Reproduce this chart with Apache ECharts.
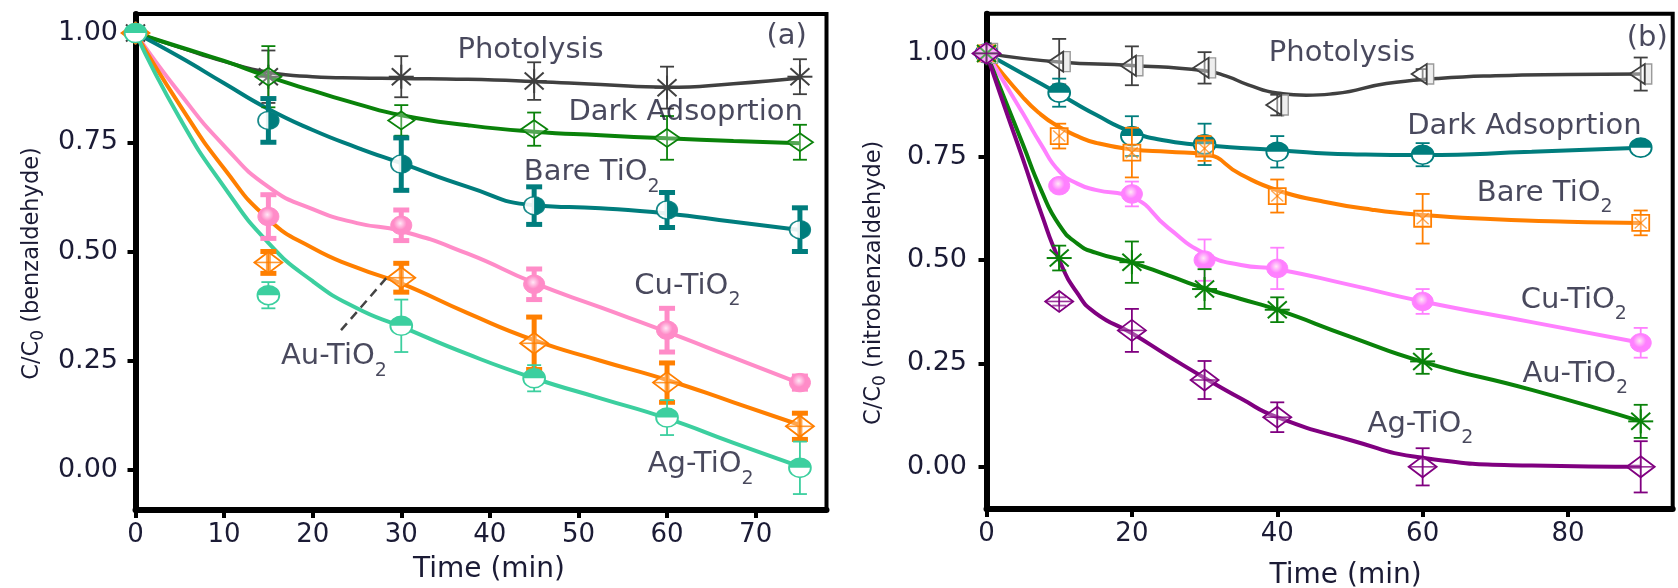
<!DOCTYPE html>
<html><head><meta charset="utf-8">
<script src="https://cdn.jsdelivr.net/npm/echarts@6/dist/echarts.min.js"></script>
<style>html,body{margin:0;padding:0;background:#fff}#c{width:1678px;height:588px}</style>
</head><body><div id="c"></div>
<script>
// ---------- Panel (a): benzaldehyde ----------
const timeA = [0, 15, 30, 45, 60, 75];
const photoA = [1.00, 0.90, 0.90, 0.89, 0.875, 0.90];
const photoErrA = [0, 0.06, 0.047, 0.043, 0.048, 0.04];
const darkA = [1.00, 0.90, 0.80, 0.78, 0.76, 0.75];
const darkErrA = [0, 0.07, 0.035, 0.038, 0.05, 0.04];
const bareA = [1.00, 0.80, 0.70, 0.605, 0.595, 0.55];
const bareErrA = [0, 0.05, 0.06, 0.043, 0.04, 0.05];
const cuA = [1.00, 0.58, 0.56, 0.425, 0.32, 0.20];
const cuErrA = [0, 0.05, 0.035, 0.035, 0.05, 0.015];
const auA = [1.00, 0.475, 0.44, 0.29, 0.20, 0.10];
const auErrA = [0, 0.025, 0.033, 0.06, 0.045, 0.03];
const agA = [1.00, 0.40, 0.33, 0.21, 0.12, 0.005];
const agErrA = [0, 0.03, 0.06, 0.03, 0.04, 0.06];
// fitted curves
const fitTimeA = [0, 5, 10, 15, 20, 25, 30, 37.5, 45, 52.5, 60, 67.5, 75];
const photoFitA = [1.0, 0.967, 0.935, 0.91, 0.90, 0.897, 0.896, 0.894, 0.889, 0.882, 0.876, 0.884, 0.897];
const darkFitA = [1.0, 0.968, 0.936, 0.90, 0.868, 0.838, 0.812, 0.789, 0.774, 0.766, 0.759, 0.753, 0.748];
const bareFitA = [1.0, 0.945, 0.885, 0.826, 0.778, 0.738, 0.702, 0.648, 0.606, 0.599, 0.587, 0.568, 0.549];
const cuFitA = [1.0, 0.862, 0.742, 0.648, 0.597, 0.565, 0.547, 0.495, 0.428, 0.372, 0.316, 0.257, 0.198];
const auFitA = [1.0, 0.835, 0.69, 0.574, 0.508, 0.463, 0.427, 0.359, 0.297, 0.25, 0.206, 0.155, 0.103];
const agFitA = [1.0, 0.805, 0.648, 0.52, 0.432, 0.37, 0.328, 0.265, 0.21, 0.164, 0.118, 0.062, 0.008];
const pointerA = [[23.2, 0.32], [28.3, 0.439]];
const annoTextA = ['Photolysis', 'Dark Adsoprtion', 'Bare TiO2', 'Cu-TiO2', 'Au-TiO2', 'Ag-TiO2', '(a)'];
const annoXA = [44.6, 62.1, 51.5, 62.3, 22.4, 63.8, 73.5];
const annoYA = [0.961, 0.819, 0.670, 0.410, 0.249, 0.002, 0.993];
const xTicksA = [0, 10, 20, 30, 40, 50, 60, 70];

// ---------- Panel (b): nitrobenzaldehyde ----------
const timeB = [0, 10, 20, 30, 40, 60, 90];
const photoB = [1.00, 0.98, 0.97, 0.965, 0.875, 0.95, 0.95];
const photoErrB = [0, 0.055, 0.047, 0.038, 0.025, 0.012, 0.04];
const darkB = [1.00, 0.905, 0.80, 0.78, 0.762, 0.755, 0.772];
const darkErrB = [0, 0.034, 0.048, 0.05, 0.038, 0.028, 0.012];
const bareB = [1.00, 0.80, 0.76, 0.77, 0.655, 0.60, 0.59];
const bareErrB = [0, 0.03, 0.06, 0.03, 0.04, 0.06, 0.03];
const cuB = [1.00, 0.68, 0.66, 0.50, 0.48, 0.40, 0.30];
const cuErrB = [0, 0.012, 0.03, 0.05, 0.05, 0.03, 0.036];
const auB = [1.00, 0.505, 0.495, 0.43, 0.38, 0.255, 0.11];
const auErrB = [0, 0.03, 0.05, 0.048, 0.03, 0.03, 0.04];
const agB = [1.00, 0.40, 0.33, 0.21, 0.12, 0.0, 0.0];
const agErrB = [0, 0.01, 0.052, 0.046, 0.036, 0.045, 0.062];
// fitted curves (each with its own times)
const photoFitTB = [0, 10, 20, 30, 33, 36, 40, 44, 48, 55, 62, 70, 80, 90];
const photoFitB = [1.0, 0.979, 0.971, 0.958, 0.945, 0.924, 0.904, 0.899, 0.903, 0.927, 0.939, 0.946, 0.949, 0.95];
const darkFitTB = [0, 5, 10, 15, 20, 25, 30, 40, 50, 60, 75, 90];
const darkFitB = [1.0, 0.951, 0.902, 0.852, 0.81, 0.788, 0.778, 0.766, 0.756, 0.754, 0.762, 0.772];
const bareFitTB = [0, 5, 7.5, 10, 12.5, 15, 20, 25, 30, 35, 40, 46, 53, 60, 70, 80, 90];
const bareFitB = [1.0, 0.894, 0.852, 0.822, 0.80, 0.784, 0.768, 0.762, 0.756, 0.707, 0.669, 0.643, 0.622, 0.609, 0.599, 0.593, 0.59];
const cuFitTB = [0, 2.5, 5, 7.5, 10, 12.5, 15, 20, 25, 30, 35, 40, 50, 60, 75, 90];
const cuFitB = [1.0, 0.928, 0.855, 0.78, 0.715, 0.685, 0.67, 0.652, 0.578, 0.516, 0.488, 0.478, 0.44, 0.40, 0.35, 0.30];
const auFitTB = [0, 2.5, 5, 7.5, 10, 12.5, 15, 20, 25, 30, 35, 40, 50, 60, 75, 90];
const auFitB = [1.0, 0.89, 0.78, 0.67, 0.585, 0.54, 0.518, 0.494, 0.463, 0.432, 0.406, 0.38, 0.315, 0.254, 0.186, 0.11];
const agFitTB = [0, 2.5, 5, 7.5, 10, 12.5, 15, 20, 25, 30, 35, 40, 50, 60, 75, 90];
const agFitB = [1.0, 0.87, 0.745, 0.615, 0.50, 0.42, 0.372, 0.323, 0.268, 0.215, 0.165, 0.12, 0.065, 0.022, 0.003, 0.0];
const annoTextB = ['Photolysis', 'Dark Adsoprtion', 'Bare TiO2', 'Cu-TiO2', 'Au-TiO2', 'Ag-TiO2', '(b)'];
const annoXB = [48.9, 74.0, 76.8, 80.8, 81.0, 59.7, 90.9];
const annoYB = [1.001, 0.824, 0.651, 0.3925, 0.2126, 0.0918, 1.036];
const xTicksB = [0, 20, 40, 60, 80];
const yTicks = [0, 0.25, 0.5, 0.75, 1.0];

// ---------- styling ----------
const FONT = 'DejaVu Sans';
const TXT = '#1b1b35';
const C = {gray:'#404040', green:'#0a820a', teal:'#007d7d', pinkA:'#ff8cc8', orange:'#ff7f00',
           mint:'#3ccf9f', pinkB:'#ff80ff', purple:'#800080'};

function zip(t, v) { return t.map((x, i) => [x, v[i]]); }
function zip3(t, v, e) { return t.map((x, i) => [x, v[i], e[i]]); }

function ln(x1, y1, x2, y2, c, w, op) {
  return {type:'line', shape:{x1, y1, x2, y2}, style:{stroke:c, lineWidth:w, opacity:op == null ? 1 : op}};
}
function markerEls(kind, c) {
  const lw = 1.8;
  switch (kind) {
    case 'asterisk':
      return [ln(0,-12,0,12,c,2), ln(-12.5,0,12.5,0,c,2), ln(-9.5,-8.5,9.5,8.5,c,2), ln(-9.5,8.5,9.5,-8.5,c,2)];
    case 'diamond':
      return [{type:'polygon', shape:{points:[[0,-9],[13,0],[0,9],[-13,0]]}, style:{fill:'rgba(255,255,255,0.3)', stroke:c, lineWidth:lw}}];
    case 'diamondPlus':
      return [{type:'polygon', shape:{points:[[0,-10.5],[14,0],[0,10.5],[-14,0]]}, style:{fill:'rgba(255,255,255,0.3)', stroke:c, lineWidth:lw}},
              ln(-14,0,14,0,c,1.6,0.8), ln(0,-10.5,0,10.5,c,1.6,0.8)];
    case 'halfRight':
      return [{type:'group', scaleX:1.15, children:[
        {type:'circle', shape:{cx:0, cy:0, r:9}, style:{fill:'#fff', stroke:c, lineWidth:1.5, opacity:0.9}},
        {type:'sector', shape:{cx:0, cy:0, r0:0, r:9, startAngle:-Math.PI/2, endAngle:Math.PI/2, clockwise:true}, style:{fill:c}}]}];
    case 'halfTop':
      return [{type:'group', scaleX:1.15, children:[
        {type:'circle', shape:{cx:0, cy:0, r:9.5}, style:{fill:'#fff', stroke:c, lineWidth:1.6}},
        {type:'sector', shape:{cx:0, cy:0, r0:0, r:9.5, startAngle:Math.PI, endAngle:2*Math.PI, clockwise:true}, style:{fill:c}}]}];
    case 'filled':
      return [{type:'ellipse', shape:{cx:0, cy:0, rx:10.5, ry:9.2},
        style:{fill:new echarts.graphic.RadialGradient(0.45, 0.4, 0.6, [{offset:0, color:'#ffe8f6'}, {offset:0.55, color:c}, {offset:1, color:c}]), stroke:c, lineWidth:1}}];
    case 'squareX':
      return [{type:'rect', shape:{x:-8.5, y:-8, width:17, height:16}, style:{fill:'rgba(255,255,255,0.3)', stroke:c, lineWidth:lw}},
              ln(-6,-5.5,6,5.5,c,1.4,0.7), ln(-6,5.5,6,-5.5,c,1.4,0.7)];
    case 'triLeft':
      return [{type:'rect', shape:{x:4, y:-10, width:7, height:20}, style:{fill:'#eeeeee', stroke:'#9a9a9a', lineWidth:1.4}},
              {type:'polygon', shape:{points:[[-11,0],[4,-10],[4,10]]}, style:{fill:'rgba(255,255,255,0.4)', stroke:c, lineWidth:lw}}];
  }
  return [];
}

function pointSeries(gi, t, v, e, color, kind, thick) {
  const ew = thick ? 5 : 1.8, cw = thick ? 16 : 14;
  return {
    type:'custom', xAxisIndex:gi, yAxisIndex:gi, z:5, clip:false, silent:true,
    data: zip3(t, v, e),
    renderItem: (params, api) => {
      const x = api.value(0), y = api.value(1), er = api.value(2);
      const p = api.coord([x, y]);
      const ch = [];
      if (er > 0) {
        const pt = api.coord([x, y + er]), pb = api.coord([x, y - er]);
        ch.push(ln(p[0], pt[1], p[0], pb[1], color, ew));
        ch.push(ln(p[0]-cw/2, pt[1], p[0]+cw/2, pt[1], color, ew));
        ch.push(ln(p[0]-cw/2, pb[1], p[0]+cw/2, pb[1], color, ew));
      }
      ch.push({type:'group', x:p[0], y:p[1], children:markerEls(kind, color)});
      return {type:'group', children:ch};
    }
  };
}
function curveSeries(gi, t, v, color, w) {
  return {type:'line', xAxisIndex:gi, yAxisIndex:gi, data:zip(t, v), smooth:0.55, showSymbol:false,
          symbol:'none', silent:true, z:3, lineStyle:{color, width:w || 4}};
}
function richLabel(s) {
  if (/O2$/.test(s)) return '{m|' + s.slice(0, -1) + '}{s|2}';
  return '{p|' + s + '}';
}
const richStyles = {
  p:{fontSize:29, fontFamily:FONT, color:TXT},
  m:{fontSize:29, fontFamily:FONT, color:TXT, padding:[0,0,9,0], verticalAlign:'bottom'},
  s:{fontSize:19, fontFamily:FONT, color:TXT, verticalAlign:'bottom'}
};
function annoSeries(gi, txt, xs, ys) {
  return {type:'scatter', xAxisIndex:gi, yAxisIndex:gi, symbolSize:1, z:10, silent:true,
    itemStyle:{color:'rgba(0,0,0,0)'},
    data: txt.map((s, i) => ({value:[xs[i], ys[i]], label:{formatter:richLabel(s)}})),
    label:{show:true, position:'inside', rich:richStyles}};
}
function xAxisCfg(gi, max, ticks, gap, padL) {
  return {type:'value', gridIndex:gi, min:0, max,
    axisLine:{show:true, onZero:false, lineStyle:{color:'#000', width:6}},
    axisTick:{show:true, inside:false, length:8, customValues:ticks, lineStyle:{color:'#000', width:4}},
    axisLabel:{customValues:ticks, color:TXT, fontFamily:FONT, fontSize:26, margin:12},
    splitLine:{show:false},
    name:'Time (min)', nameLocation:'middle', nameGap:gap,
    nameTextStyle:{color:TXT, fontFamily:FONT, fontSize:28, padding:[0,0,0,padL]}};
}
function yAxisCfg(gi, min, max, label, gap, padR, margin) {
  return {type:'value', gridIndex:gi, min, max,
    axisLine:{show:true, onZero:false, lineStyle:{color:'#000', width:6}},
    axisTick:{show:true, inside:false, length:8, customValues:yTicks, lineStyle:{color:'#000', width:4}},
    axisLabel:{customValues:yTicks, color:TXT, fontFamily:FONT, fontSize:27, margin, formatter:v => v.toFixed(2)},
    splitLine:{show:false},
    name:'{m|C/C}{s|0}{m| (' + label + ')}', nameLocation:'middle', nameGap:gap, nameRotate:90,
    nameTextStyle:{padding:[0,padR,0,0], rich:{
      m:{fontSize:22.5, fontFamily:FONT, color:TXT, padding:[0,0,4,0], verticalAlign:'bottom'},
      s:{fontSize:17, fontFamily:FONT, color:TXT, verticalAlign:'bottom'}}}};
}

const chart = echarts.init(document.getElementById('c'));
chart.setOption({
  animation:false,
  backgroundColor:'#fff',
  grid:[
    {left:135.5, top:14, width:691, height:496, show:true, borderColor:'#000', borderWidth:4,
     backgroundColor:'transparent', containLabel:false, outerBoundsMode:'none'},
    {left:986.5, top:13.7, width:686.2, height:495.3, show:true, borderColor:'#000', borderWidth:4,
     backgroundColor:'transparent', containLabel:false, outerBoundsMode:'none'}
  ],
  xAxis:[xAxisCfg(0, 78, xTicksA, 46, 16), xAxisCfg(1, 94.4, xTicksB, 53, 32)],
  yAxis:[yAxisCfg(0, -0.0915, 1.0435, 'benzaldehyde', 88, 3, 17.5),
         yAxisCfg(1, -0.102, 1.096, 'nitrobenzaldehyde', 97, 43, 19.5)],
  series:[
    curveSeries(0, fitTimeA, photoFitA, C.gray, 3.5),
    curveSeries(0, fitTimeA, darkFitA, C.green),
    curveSeries(0, fitTimeA, bareFitA, C.teal),
    curveSeries(0, fitTimeA, cuFitA, C.pinkA),
    curveSeries(0, fitTimeA, auFitA, C.orange),
    curveSeries(0, fitTimeA, agFitA, C.mint),
    {type:'line', xAxisIndex:0, yAxisIndex:0, data:pointerA, showSymbol:false, symbol:'none', silent:true, z:4,
     lineStyle:{color:'#444', width:2.5, type:[9,6]}},
    pointSeries(0, timeA, photoA, photoErrA, C.gray, 'asterisk', false),
    pointSeries(0, timeA, darkA, darkErrA, C.green, 'diamond', false),
    pointSeries(0, timeA, bareA, bareErrA, C.teal, 'halfRight', true),
    pointSeries(0, timeA, cuA, cuErrA, C.pinkA, 'filled', true),
    pointSeries(0, timeA, auA, auErrA, C.orange, 'diamondPlus', true),
    pointSeries(0, timeA, agA, agErrA, C.mint, 'halfTop', false),
    annoSeries(0, annoTextA, annoXA, annoYA),

    curveSeries(1, photoFitTB, photoFitB, C.gray, 3.5),
    curveSeries(1, darkFitTB, darkFitB, C.teal),
    curveSeries(1, bareFitTB, bareFitB, C.orange),
    curveSeries(1, cuFitTB, cuFitB, C.pinkB),
    curveSeries(1, auFitTB, auFitB, C.green),
    curveSeries(1, agFitTB, agFitB, C.purple),
    pointSeries(1, timeB, photoB, photoErrB, C.gray, 'triLeft', false),
    pointSeries(1, timeB, darkB, darkErrB, C.teal, 'halfTop', false),
    pointSeries(1, timeB, bareB, bareErrB, C.orange, 'squareX', false),
    pointSeries(1, timeB, cuB, cuErrB, C.pinkB, 'filled', false),
    pointSeries(1, timeB, auB, auErrB, C.green, 'asterisk', false),
    pointSeries(1, timeB, agB, agErrB, C.purple, 'diamondPlus', false),
    annoSeries(1, annoTextB, annoXB, annoYB)
  ]
});
</script>
</body></html>
